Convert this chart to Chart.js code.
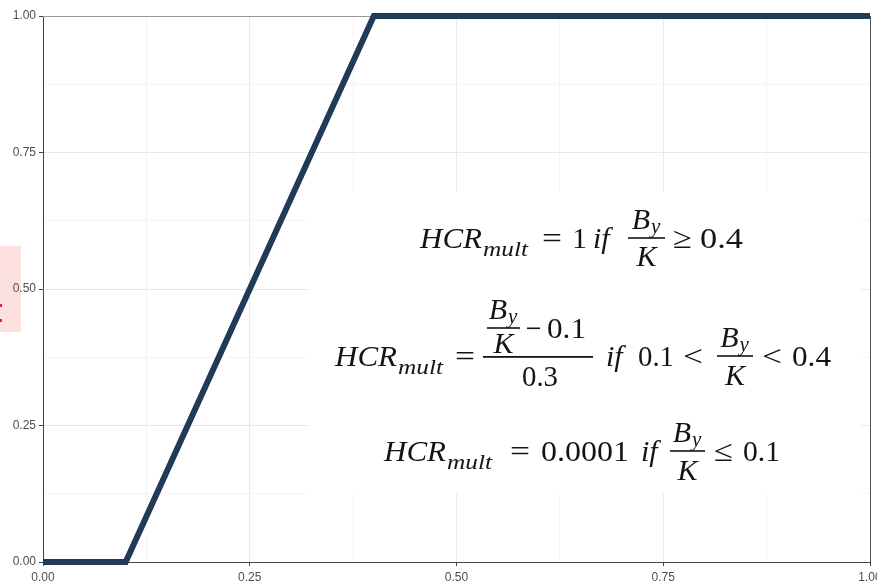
<!DOCTYPE html>
<html>
<head>
<meta charset="utf-8">
<script src="https://cdn.jsdelivr.net/npm/chart.js@4/dist/chart.umd.min.js"></script>
<style>
  html, body { margin: 0; padding: 0; background: #ffffff; }
  #wrap { width: 877px; height: 583px; position: relative; }
  canvas { display: block; }
</style>
</head>
<body>
<div id="wrap"><canvas id="c" width="877" height="583"></canvas></div>
<script>
// ---- data ----
const xValues = [0, 0.1, 0.4, 1];      // B_y / K
const yValues = [0, 0, 1, 1];          // HCR multiplier
const tickLabels = ['0.00', '0.25', '0.50', '0.75', '1.00'];
const tickStep = 0.125;                // major every 0.25, minor halfway

function isMajor(v) { return Math.abs(v * 4 - Math.round(v * 4)) < 1e-9; }
function labelFor(v) { return isMajor(v) ? tickLabels[Math.round(v * 4)] : ''; }

function txt(c, s, x, y, size, italic, w) {
  c.font = (italic ? 'italic ' : '') + size + 'px "Liberation Serif", "DejaVu Serif", serif';
  if (w) {
    const m = c.measureText(s).width;
    c.save(); c.translate(x, y); c.scale(w / m, 1); c.fillText(s, 0, 0); c.restore();
  } else {
    c.fillText(s, x, y);
  }
}
function frac(c, l, r, barY, kOff) {
  const cx = (l + r) / 2;
  c.fillRect(l, barY - 0.8, r - l, 1.6);
  c.font = 'italic 30px "Liberation Serif", serif';
  const bw = c.measureText('B').width;
  c.font = 'italic 21px "Liberation Serif", serif';
  const yw = c.measureText('y').width;
  const sx = cx - (bw + yw) / 2 - 1;
  txt(c, 'B', sx, barY - 9, 30, true);
  txt(c, 'y', sx + bw + 1, barY - 5, 21, true);
  c.font = 'italic 30px "Liberation Serif", serif';
  const kw = c.measureText('K').width;
  txt(c, 'K', cx - kw / 2, barY + (kOff || 28), 30, true);
}
function hcr(c, x, base) {
  txt(c, 'HCR', x, base, 30, true, 62);
  txt(c, 'mult', x + 63, base + 8, 22, true, 45);
}

const overlay = {
  id: 'overlay',
  beforeDraw(chart) {
    const c = chart.ctx;
    c.save();
    c.fillStyle = '#fde1e1';
    c.fillRect(0, 246, 21, 86);
    c.fillStyle = '#e8202a';
    c.fillRect(0, 304, 2, 3);
    c.fillRect(0, 319, 2, 3);
    c.restore();
  },
  beforeDatasetsDraw(chart) {
    const c = chart.ctx, a = chart.chartArea;
    c.save();
    // white equation panel
    c.fillStyle = '#ffffff';
    c.fillRect(308, 192, 553, 302);
    // top and right panel border
    c.strokeStyle = '#9a9a9a'; c.lineWidth = 1;
    c.beginPath(); c.moveTo(a.left, a.top + 0.5); c.lineTo(a.right, a.top + 0.5); c.stroke();
    c.strokeStyle = '#555555';
    c.beginPath(); c.moveTo(a.right + 0.5, a.top); c.lineTo(a.right + 0.5, a.bottom); c.stroke();
    c.restore();
  },
  afterDatasetsDraw(chart) {
    const c = chart.ctx;
    c.save();
    c.fillStyle = '#141414';
    c.textBaseline = 'alphabetic';
    // line 1
    let b = 248;
    hcr(c, 420, b);
    txt(c, '=', 542, b, 30, false, 20);
    txt(c, '1', 572, b, 30, false);
    txt(c, 'if', 593, b, 30, true);
    frac(c, 628, 665, 238);
    txt(c, '\u2265', 673, b, 30, false, 19);
    txt(c, '0.4', 700, b, 30, false, 43);
    // line 2
    b = 366;
    hcr(c, 335, b);
    txt(c, '=', 455, b, 30, false, 20);
    c.fillRect(483, 356, 110, 1.8);
    frac(c, 487, 520, 328, 25);
    c.fillRect(527, 327.5, 13, 1.6);
    txt(c, '0.1', 547, 338, 30, false, 39);
    txt(c, '0.3', 522, 386, 30, false, 36);
    txt(c, 'if', 606, b, 30, true);
    txt(c, '0.1', 638, b, 30, false, 36);
    txt(c, '<', 683, b, 30, false, 20);
    frac(c, 717, 753, 356, 29);
    txt(c, '<', 762, b, 30, false, 20);
    txt(c, '0.4', 792, b, 30, false, 39);
    // line 3
    b = 461;
    hcr(c, 384, b);
    txt(c, '=', 510, b, 30, false, 20);
    txt(c, '0.0001', 541, b, 30, false, 88);
    txt(c, 'if', 641, b, 30, true);
    frac(c, 670, 705, 451, 29);
    txt(c, '\u2264', 714, b, 30, false, 19);
    txt(c, '0.1', 743, b, 30, false, 37);
    c.restore();
  }
};

const tickFont = { family: '"Liberation Sans", Arial, sans-serif', size: 12 };

new Chart(document.getElementById('c'), {
  type: 'line',
  data: {
    datasets: [{
      data: xValues.map((x, i) => ({ x: x, y: yValues[i] })),
      borderColor: '#203a58',
      borderWidth: 6,
      pointRadius: 0,
      tension: 0,
      fill: false,
      clip: false,
      borderJoinStyle: 'miter'
    }]
  },
  options: {
    responsive: false,
    devicePixelRatio: 1,
    animation: false,
    events: [],
    layout: { padding: { top: 16, right: 7, left: 0, bottom: 0 } },
    plugins: { legend: { display: false }, tooltip: { enabled: false }, title: { display: false } },
    scales: {
      x: {
        type: 'linear', min: 0, max: 1,
        afterFit(s) { s.height = 21; s.paddingLeft = 0; s.paddingRight = 0; },
        ticks: {
          stepSize: tickStep, autoSkip: false, maxRotation: 0, padding: 4,
          color: '#4d4d4d', font: tickFont,
          callback: (v) => labelFor(v)
        },
        grid: {
          color: (ctx) => isMajor(ctx.tick.value) ? '#e9e9e9' : '#f4f4f4',
          lineWidth: 1,
          tickLength: 4,
          tickColor: (ctx) => isMajor(ctx.tick.value) ? '#444444' : 'rgba(0,0,0,0)'
        },
        border: { display: true, color: '#444444', width: 1 }
      },
      y: {
        type: 'linear', min: 0, max: 1,
        afterFit(s) { s.width = 43; s.paddingTop = 0; s.paddingBottom = 0; },
        ticks: {
          stepSize: tickStep, autoSkip: false, padding: 3,
          color: '#4d4d4d', font: tickFont,
          callback: (v) => labelFor(v)
        },
        grid: {
          color: (ctx) => isMajor(ctx.tick.value) ? '#e9e9e9' : '#f4f4f4',
          lineWidth: 1,
          tickLength: 4,
          tickColor: (ctx) => isMajor(ctx.tick.value) ? '#444444' : 'rgba(0,0,0,0)'
        },
        border: { display: true, color: '#444444', width: 1 }
      }
    }
  },
  plugins: [overlay]
});
</script>
</body>
</html>
